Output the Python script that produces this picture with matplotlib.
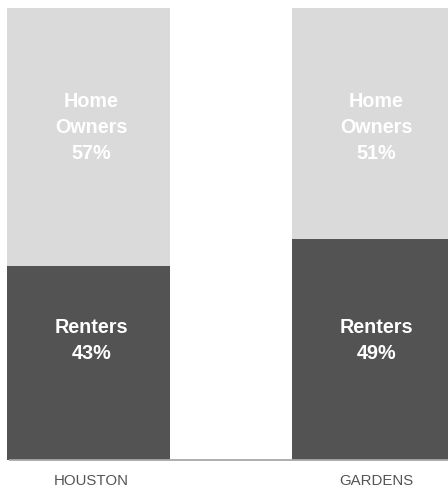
import matplotlib
matplotlib.use("Agg")
import matplotlib.pyplot as plt
import matplotlib.transforms as mtransforms

# Housing tenure share by area (percent)
areas = ["HOUSTON", "GARDENS"]
renters = [43, 49]
owners = [57, 51]
renter_label = "Renters"
owner_label = "Home\nOwners"

plt.rcParams["font.family"] = ["Liberation Sans", "DejaVu Sans"]

W, H = 448, 489
fig = plt.figure(figsize=(W / 100, H / 100), dpi=100)

# axes spans from the left bar edge to the right figure edge
ax_left, ax_right = 7, 448
ax_bottom, ax_top = 461, 9
ax = fig.add_axes([ax_left / W, (H - ax_bottom) / H,
                   (ax_right - ax_left) / W, (ax_bottom - ax_top) / H])

spacing_px = 285.0
bar_px = 163.0
width = bar_px / spacing_px
x = list(range(len(areas)))

dark = "#535353"
light = "#dadada"

ax.bar(x, renters, width=width, color=dark, linewidth=0)
ax.bar(x, owners, width=width, bottom=renters, color=light, linewidth=0)

ax.set_xlim(-width / 2, -width / 2 + (ax_right - ax_left) / spacing_px)
ax.set_ylim(0, 100)

shift = mtransforms.offset_copy(ax.transData, fig=fig, x=3, y=0, units="dots")
for xi, r, o in zip(x, renters, owners):
    ax.text(xi, 73.8, f"{owner_label}\n{o}%", transform=shift, ha="center",
            va="center", color="white", fontsize=14.2, fontweight="bold",
            linespacing=1.48)
    ax.text(xi, 26.6, f"{renter_label}\n{r}%", transform=shift, ha="center",
            va="center", color="white", fontsize=14.2, fontweight="bold",
            linespacing=1.48)
    ax.text(xi, -5.4, areas[xi], transform=shift, ha="center", va="baseline",
            color="#555555", fontsize=10.8, clip_on=False)

# baseline under the bars
ax.axhline(0, xmin=3 / (ax_right - ax_left), xmax=1, color="#a8a8a8",
           linewidth=1.3, clip_on=False, zorder=3)

ax.set_xticks([])
ax.set_yticks([])
for s in ax.spines.values():
    s.set_visible(False)

fig.savefig("out.png", dpi=100)
